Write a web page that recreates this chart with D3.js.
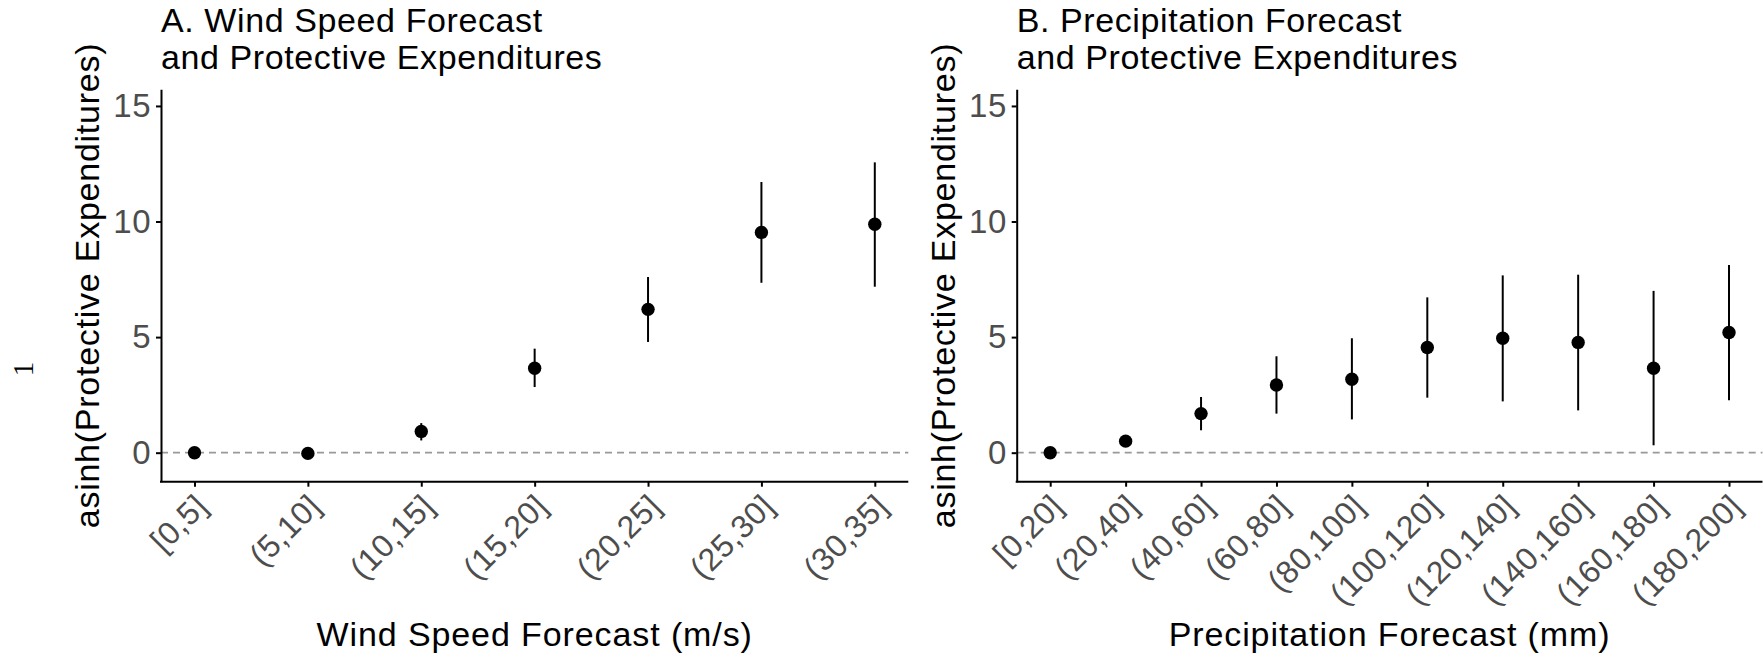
<!DOCTYPE html>
<html>
<head>
<meta charset="utf-8">
<script src="https://cdn.jsdelivr.net/npm/d3@7"></script>
<style>
    body { margin: 0; background: #ffffff; }
    svg { display: block; }
    text { font-family: "Liberation Sans", Arial, Helvetica, sans-serif; }
</style>
</head>
<body>
<svg id="chart" width="1763" height="665"></svg>
<script>
// panel A: wind speed bins
const windCats = ["[0,5]", "(5,10]", "(10,15]", "(15,20]", "(20,25]", "(25,30]", "(30,35]"];
const windEst  = [0.00, -0.03, 0.92, 3.65, 6.20, 9.53, 9.88];
const windLo   = [0.00, -0.03, 0.53, 2.84, 4.79, 7.35, 7.18];
const windHi   = [0.00, -0.03, 1.28, 4.50, 7.60, 11.71, 12.56];

// panel B: precipitation bins
const precipCats = ["[0,20]", "(20,40]", "(40,60]", "(60,80]", "(80,100]", "(100,120]",
                    "(120,140]", "(140,160]", "(160,180]", "(180,200]"];
const precipEst  = [0.00, 0.50, 1.69, 2.93, 3.18, 4.55, 4.95, 4.77, 3.65, 5.20];
const precipLo   = [0.00, 0.30, 0.97, 1.69, 1.44, 2.38, 2.22, 1.83, 0.32, 2.27];
const precipHi   = [0.00, 0.75, 2.41, 4.17, 4.95, 6.72, 7.67, 7.70, 7.00, 8.12];

const yTicks = [0, 5, 10, 15];
const yDomain = [-1.255, 15.72];
const yLabel = "asinh(Protective Expenditures)";

let svg = d3.select("body").select("svg#chart");

let plotTop = 89.3;
let plotBottom = 481.7;
let pointPad = 33.5;   // space between panel edge and first/last bin

let yScale = d3.scaleLinear()
    .domain(yDomain)
    .range([plotBottom, plotTop]);

let panels = [
    {cats: windCats, est: windEst, lo: windLo, hi: windHi, left: 161, right: 908.3,
     title: ["A. Wind Speed Forecast", "and Protective Expenditures"],
     xTitle: "Wind Speed Forecast (m/s)"},
    {cats: precipCats, est: precipEst, lo: precipLo, hi: precipHi, left: 1016.7, right: 1762.5,
     title: ["B. Precipitation Forecast", "and Protective Expenditures"],
     xTitle: "Precipitation Forecast (mm)"}
];

// odd rotated glyph at the far left of the figure
svg.append("text")
    .attr("transform", "translate(33,369) rotate(-90)")
    .attr("text-anchor", "middle")
    .style("font-family", "'Liberation Serif', 'DejaVu Serif', serif")
    .style("font-size", "29px")
    .style("fill", "#000")
    .text("1");

panels.forEach(function (p) {
    let xScale = d3.scalePoint()
        .domain(p.cats)
        .range([p.left + pointPad, p.right - pointPad]);

    let rows = p.cats.map(function (c, i) {
        return {cat: c, est: p.est[i], lo: p.lo[i], hi: p.hi[i]};
    });

    let g = svg.append("g");

    // reference line at zero
    g.append("line")
        .attr("x1", p.left).attr("x2", p.right)
        .attr("y1", yScale(0)).attr("y2", yScale(0))
        .attr("stroke", "#999999")
        .attr("stroke-width", 1.8)
        .attr("stroke-dasharray", "7,5");

    // confidence intervals
    g.selectAll("line.ci")
        .data(rows)
        .enter().append("line")
        .attr("class", "ci")
        .attr("x1", d => xScale(d.cat)).attr("x2", d => xScale(d.cat))
        .attr("y1", d => yScale(d.lo)).attr("y2", d => yScale(d.hi))
        .attr("stroke", "#000")
        .attr("stroke-width", 2);

    g.selectAll("circle")
        .data(rows)
        .enter().append("circle")
        .attr("cx", d => xScale(d.cat))
        .attr("cy", d => yScale(d.est))
        .attr("r", 6.7)
        .attr("fill", "#000");

    // y axis
    let yAxis = d3.axisLeft(yScale)
        .tickValues(yTicks)
        .tickSize(5)
        .tickSizeOuter(0)
        .tickPadding(4.5);

    let yGroup = g.append("g")
        .attr("transform", "translate(" + p.left + ",0)")
        .call(yAxis);
    yGroup.select(".domain").attr("stroke", "#000").attr("stroke-width", 2);
    yGroup.selectAll(".tick line").attr("stroke", "#000").attr("stroke-width", 2);
    yGroup.selectAll(".tick text")
        .style("font-size", "33px")
        .style("letter-spacing", "0.8px")
        .attr("fill", "#4d4d4d");

    // x axis, labels at 45 degrees ending at the tick
    let xAxis = d3.axisBottom(xScale)
        .tickSize(5)
        .tickSizeOuter(0);

    let xGroup = g.append("g")
        .attr("transform", "translate(0," + plotBottom + ")")
        .call(xAxis);
    xGroup.select(".domain").remove();
    xGroup.selectAll(".tick line").attr("stroke", "#000").attr("stroke-width", 2);
    xGroup.selectAll(".tick text")
        .attr("x", -2)
        .attr("y", 10)
        .attr("dy", "0.72em")
        .attr("transform", "rotate(-45,-2,10)")
        .attr("text-anchor", "end")
        .style("font-size", "32px")
        .style("letter-spacing", "0.5px")
        .attr("fill", "#4d4d4d");

    g.append("line")
        .attr("x1", p.left - 1).attr("x2", p.right)
        .attr("y1", plotBottom).attr("y2", plotBottom)
        .attr("stroke", "#000")
        .attr("stroke-width", 2);

    // titles
    g.append("text")
        .attr("x", p.left)
        .attr("y", 31.7)
        .style("font-size", "34px")
        .style("letter-spacing", "0.6px")
        .text(p.title[0]);
    g.append("text")
        .attr("x", p.left)
        .attr("y", 69.3)
        .style("font-size", "34px")
        .style("letter-spacing", "0.6px")
        .text(p.title[1]);

    g.append("text")
        .attr("x", (p.left + p.right) / 2)
        .attr("y", 646)
        .attr("text-anchor", "middle")
        .style("font-size", "34px")
        .style("letter-spacing", "0.9px")
        .text(p.xTitle);

    g.append("text")
        .attr("transform", "translate(" + (p.left - 62) + "," + ((plotTop + plotBottom) / 2) + ") rotate(-90)")
        .attr("text-anchor", "middle")
        .style("font-size", "34px")
        .style("letter-spacing", "0.75px")
        .text(yLabel);
});
</script>
</body>
</html>
